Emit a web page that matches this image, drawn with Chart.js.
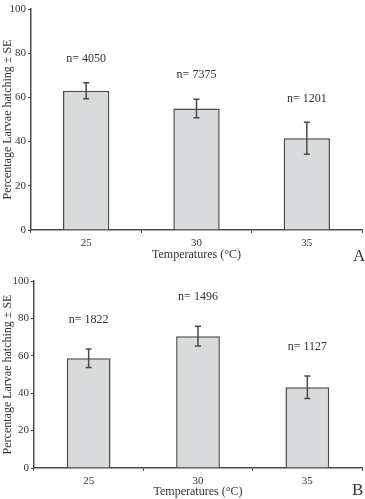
<!DOCTYPE html>
<html>
<head>
<meta charset="utf-8">
<script src="https://cdn.jsdelivr.net/npm/chart.js@4"></script>
<style>
  body { margin: 0; background: #fff; width: 365px; height: 499px; position: relative; overflow: hidden; }
  canvas { position: absolute; left: 0; }
  .panel { position: absolute; font-family: "Liberation Serif", serif; font-size: 17px; color: #333; }
</style>
</head>
<body>
<canvas id="graficoA" width="365" height="262" style="top:0"></canvas>
<canvas id="graficoB" width="365" height="237" style="top:262px"></canvas>
<div class="panel" style="left:353px; top:246px;">A</div>
<div class="panel" style="left:352px; top:480px;">B</div>
<script>
// temperature groups
const temperature = ["25", "30", "35"];
// panel A
const schiusaA = [63, 55, 41.5];
const erroreA = [3.6, 4.2, 7.2];
const campioneA = [4050, 7375, 1201];
// panel B
const schiusaB = [58.7, 70.5, 43.2];
const erroreB = [5, 5.3, 6];
const campioneB = [1822, 1496, 1127];
const tickY = [0, 20, 40, 60, 80, 100];

const grigio = "#4a4a4a";
const font = "Liberation Serif";

// error bars and n= labels
const barreErrore = {
  id: "barreErrore",
  afterDatasetsDraw(chart, args, opts) {
    const ctx = chart.ctx;
    const y = chart.scales.y;
    const meta = chart.getDatasetMeta(0);
    const valori = chart.data.datasets[0].data;
    ctx.save();
    ctx.strokeStyle = grigio;
    ctx.lineWidth = 1.5;
    meta.data.forEach(function (bar, i) {
      const alto = y.getPixelForValue(valori[i] + opts.se[i]);
      const basso = y.getPixelForValue(valori[i] - opts.se[i]);
      ctx.beginPath();
      ctx.moveTo(bar.x, alto); ctx.lineTo(bar.x, basso);
      ctx.moveTo(bar.x - 3, alto); ctx.lineTo(bar.x + 3, alto);
      ctx.moveTo(bar.x - 3, basso); ctx.lineTo(bar.x + 3, basso);
      ctx.stroke();
      ctx.fillStyle = "#333";
      ctx.font = "12px '" + font + "'";
      ctx.textAlign = "center";
      ctx.textBaseline = "middle";
      ctx.fillText("n= " + opts.n[i], bar.x, alto - opts.gap);
    });
    ctx.restore();
  }
};

function creaGrafico(id, valori, se, n, gap, larghezzaY, altezzaX, padTop, barPct) {
  const ctx = document.getElementById(id).getContext("2d");
  return new Chart(ctx, {
    type: "bar",
    data: {
      labels: temperature,
      datasets: [{
        data: valori,
        backgroundColor: "#d8dbdb",
        borderColor: grigio,
        borderWidth: 1.5,
        categoryPercentage: 1,
        barPercentage: barPct
      }]
    },
    options: {
      responsive: false,
      animation: false,
      devicePixelRatio: 1,
      layout: { padding: { top: padTop, right: 3, left: 0, bottom: 0 } },
      plugins: {
        legend: { display: false },
        tooltip: { enabled: false },
        barreErrore: { se: se, n: n, gap: gap }
      },
      scales: {
        x: {
          afterFit: function (s) { s.height = altezzaX; },
          grid: { drawOnChartArea: false, tickLength: 3, color: grigio, offset: true },
          border: { color: grigio, width: 1.5 },
          ticks: { color: "#333", font: { family: font, size: 11 }, padding: 4 },
          title: {
            display: true, text: "Temperatures (°C)", color: "#333",
            font: { family: font, size: 12 }, padding: { top: 0, bottom: 0 }
          }
        },
        y: {
          min: 0, max: 100,
          afterFit: function (s) { s.width = larghezzaY; },
          afterBuildTicks: function (s) { s.ticks = tickY.map(function (v) { return { value: v }; }); },
          grid: { drawOnChartArea: false, tickLength: 3, color: grigio },
          border: { color: grigio, width: 1.5 },
          ticks: { color: "#333", font: { family: font, size: 11 }, padding: 2 },
          title: {
            display: true, text: "Percentage Larvae hatching ± SE", color: "#333",
            font: { family: font, size: 12 }, padding: { top: 1, bottom: 0 }
          }
        }
      }
    },
    plugins: [barreErrore]
  });
}

document.addEventListener("DOMContentLoaded", function () {
  creaGrafico("graficoA", schiusaA, erroreA, campioneA, 24, 31, 32, 9, 0.42);
  creaGrafico("graficoB", schiusaB, erroreB, campioneB, 29, 34, 31, 19, 0.40);
});
</script>
</body>
</html>
